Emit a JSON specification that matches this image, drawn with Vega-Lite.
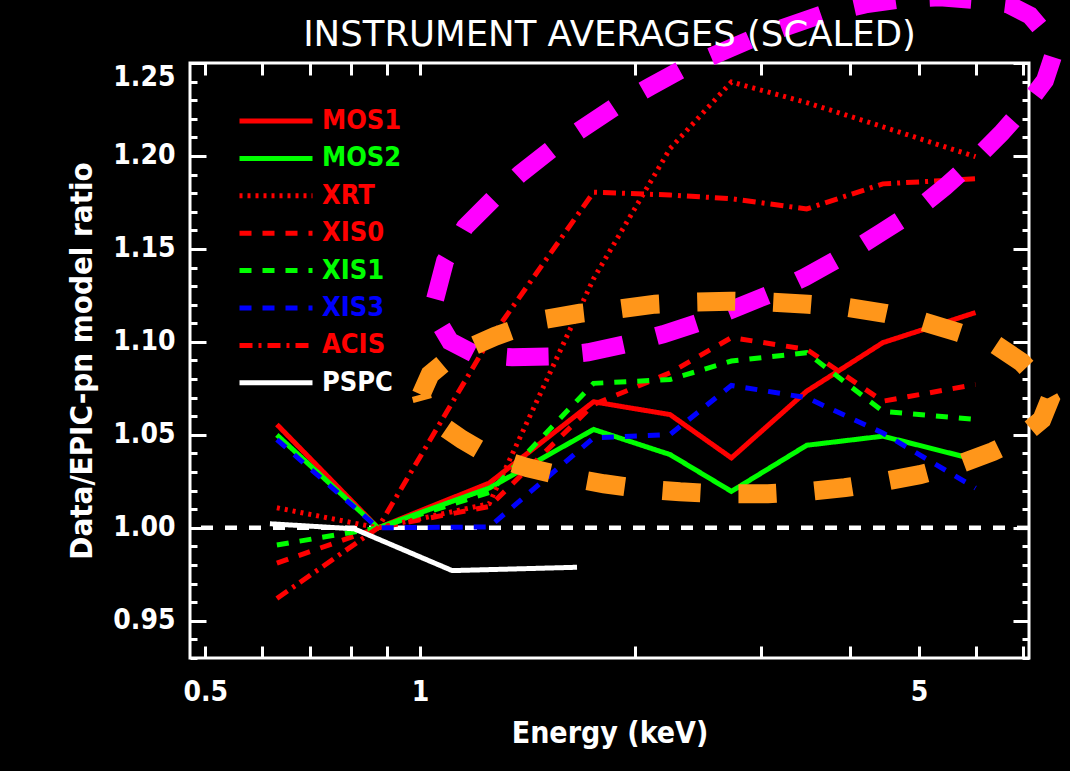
{
  "$schema": "https://vega.github.io/schema/vega-lite/v6.json",
  "width": 839,
  "height": 595,
  "autosize": {"type": "none"},
  "padding": {"left": 190, "top": 63, "right": 41, "bottom": 113},
  "background": "black",
  "config": {"view": {"stroke": "white", "strokeWidth": 3}},
  "title": {"text": "INSTRUMENT AVERAGES (SCALED)", "color": "white", "font": "DejaVu Sans", "fontSize": 35.5, "fontWeight": "normal", "anchor": "middle", "offset": 10, "dy": 102},
  "datasets": {
    "lines": [
      {"inst": "MOS1", "E": 0.63, "R": 1.0556}, {"inst": "MOS1", "E": 0.873, "R": 1.0}, {"inst": "MOS1", "E": 1.25, "R": 1.0241}, {"inst": "MOS1", "E": 1.75, "R": 1.0678}, {"inst": "MOS1", "E": 2.24, "R": 1.0609}, {"inst": "MOS1", "E": 2.73, "R": 1.0376}, {"inst": "MOS1", "E": 3.48, "R": 1.0735}, {"inst": "MOS1", "E": 4.45, "R": 1.0996}, {"inst": "MOS1", "E": 6.0, "R": 1.1158},
      {"inst": "MOS2", "E": 0.63, "R": 1.05}, {"inst": "MOS2", "E": 0.873, "R": 1.0}, {"inst": "MOS2", "E": 1.25, "R": 1.0214}, {"inst": "MOS2", "E": 1.75, "R": 1.0529}, {"inst": "MOS2", "E": 2.24, "R": 1.0394}, {"inst": "MOS2", "E": 2.73, "R": 1.0196}, {"inst": "MOS2", "E": 3.48, "R": 1.0444}, {"inst": "MOS2", "E": 4.45, "R": 1.0493}, {"inst": "MOS2", "E": 6.0, "R": 1.0367},
      {"inst": "XRT", "E": 0.63, "R": 1.0108}, {"inst": "XRT", "E": 0.873, "R": 1.0}, {"inst": "XRT", "E": 1.25, "R": 1.013}, {"inst": "XRT", "E": 1.75, "R": 1.134}, {"inst": "XRT", "E": 2.24, "R": 1.204}, {"inst": "XRT", "E": 2.73, "R": 1.2398}, {"inst": "XRT", "E": 3.48, "R": 1.2287}, {"inst": "XRT", "E": 4.45, "R": 1.2157}, {"inst": "XRT", "E": 6.0, "R": 1.1996},
      {"inst": "XIS0", "E": 0.63, "R": 0.981}, {"inst": "XIS0", "E": 0.873, "R": 1.0}, {"inst": "XIS0", "E": 1.25, "R": 1.0115}, {"inst": "XIS0", "E": 1.75, "R": 1.0663}, {"inst": "XIS0", "E": 2.24, "R": 1.0834}, {"inst": "XIS0", "E": 2.73, "R": 1.1023}, {"inst": "XIS0", "E": 3.48, "R": 1.096}, {"inst": "XIS0", "E": 4.45, "R": 1.0681}, {"inst": "XIS0", "E": 6.0, "R": 1.0771},
      {"inst": "XIS1", "E": 0.63, "R": 0.9908}, {"inst": "XIS1", "E": 0.873, "R": 1.0}, {"inst": "XIS1", "E": 1.25, "R": 1.019}, {"inst": "XIS1", "E": 1.75, "R": 1.0777}, {"inst": "XIS1", "E": 2.24, "R": 1.0798}, {"inst": "XIS1", "E": 2.73, "R": 1.0897}, {"inst": "XIS1", "E": 3.48, "R": 1.0942}, {"inst": "XIS1", "E": 4.45, "R": 1.0627}, {"inst": "XIS1", "E": 6.0, "R": 1.0583},
      {"inst": "XIS3", "E": 0.63, "R": 1.0475}, {"inst": "XIS3", "E": 0.873, "R": 1.0}, {"inst": "XIS3", "E": 1.25, "R": 1.0005}, {"inst": "XIS3", "E": 1.75, "R": 1.0484}, {"inst": "XIS3", "E": 2.24, "R": 1.0502}, {"inst": "XIS3", "E": 2.73, "R": 1.0766}, {"inst": "XIS3", "E": 3.48, "R": 1.07}, {"inst": "XIS3", "E": 4.45, "R": 1.051}, {"inst": "XIS3", "E": 6.0, "R": 1.0214},
      {"inst": "ACIS", "E": 0.63, "R": 0.962}, {"inst": "ACIS", "E": 0.873, "R": 1.0}, {"inst": "ACIS", "E": 1.25, "R": 1.101}, {"inst": "ACIS", "E": 1.75, "R": 1.1805}, {"inst": "ACIS", "E": 2.24, "R": 1.179}, {"inst": "ACIS", "E": 2.73, "R": 1.177}, {"inst": "ACIS", "E": 3.48, "R": 1.1715}, {"inst": "ACIS", "E": 4.45, "R": 1.185}, {"inst": "ACIS", "E": 6.0, "R": 1.1877},
      {"inst": "PSPC", "E": 0.616, "R": 1.0022}, {"inst": "PSPC", "E": 0.808, "R": 0.9995}, {"inst": "PSPC", "E": 1.109, "R": 0.977}, {"inst": "PSPC", "E": 1.659, "R": 0.9788}
    ],
    "magenta": [
      {"i": 1, "E": 1.0496, "R": 1.123}, {"i": 2, "E": 1.0839, "R": 1.1435}, {"i": 3, "E": 1.1562, "R": 1.1618}, {"i": 4, "E": 1.2654, "R": 1.1769}, {"i": 5, "E": 1.3808, "R": 1.1904}, {"i": 6, "E": 1.5306, "R": 1.2039}, {"i": 7, "E": 1.7026, "R": 1.2157}, {"i": 8, "E": 1.876, "R": 1.2265}, {"i": 9, "E": 2.0999, "R": 1.2373}, {"i": 10, "E": 2.335, "R": 1.247}, {"i": 11, "E": 2.6152, "R": 1.2551}, {"i": 12, "E": 2.9272, "R": 1.2632}, {"i": 13, "E": 3.2983, "R": 1.2702}, {"i": 14, "E": 3.6919, "R": 1.2767}, {"i": 15, "E": 4.2013, "R": 1.2815}, {"i": 16, "E": 4.732, "R": 1.2843}, {"i": 17, "E": 5.3496, "R": 1.2853}, {"i": 18, "E": 6.0284, "R": 1.2837}, {"i": 19, "E": 6.662, "R": 1.2816}, {"i": 20, "E": 7.151, "R": 1.2756}, {"i": 21, "E": 7.53, "R": 1.2654}, {"i": 22, "E": 7.702, "R": 1.2535}, {"i": 23, "E": 7.506, "R": 1.2406}, {"i": 24, "E": 7.062, "R": 1.2271}, {"i": 25, "E": 6.513, "R": 1.212}, {"i": 26, "E": 5.9498, "R": 1.1969}, {"i": 27, "E": 5.4369, "R": 1.1834}, {"i": 28, "E": 4.9352, "R": 1.1704}, {"i": 29, "E": 4.437, "R": 1.1591}, {"i": 30, "E": 4.002, "R": 1.1483}, {"i": 31, "E": 3.4611, "R": 1.1348}, {"i": 32, "E": 3.0918, "R": 1.1257}, {"i": 33, "E": 2.7443, "R": 1.1176}, {"i": 34, "E": 2.4665, "R": 1.1106}, {"i": 35, "E": 2.1893, "R": 1.1041}, {"i": 36, "E": 1.937, "R": 1.0987}, {"i": 37, "E": 1.7193, "R": 1.0944}, {"i": 38, "E": 1.5209, "R": 1.0922}, {"i": 39, "E": 1.3455, "R": 1.0917}, {"i": 40, "E": 1.1938, "R": 1.0933}, {"i": 41, "E": 1.1017, "R": 1.1003}, {"i": 42, "E": 1.0598, "R": 1.1111}, {"i": 43, "E": 1.0496, "R": 1.123}
    ],
    "orange": [
      {"i": 1, "E": 1.0032, "R": 1.0717}, {"i": 2, "E": 1.0328, "R": 1.0825}, {"i": 3, "E": 1.0945, "R": 1.0906}, {"i": 4, "E": 1.1749, "R": 1.0971}, {"i": 5, "E": 1.2735, "R": 1.103}, {"i": 6, "E": 1.3808, "R": 1.1079}, {"i": 7, "E": 1.4967, "R": 1.1122}, {"i": 8, "E": 1.6753, "R": 1.1154}, {"i": 9, "E": 1.888, "R": 1.1176}, {"i": 10, "E": 2.1339, "R": 1.1203}, {"i": 11, "E": 2.4044, "R": 1.1214}, {"i": 12, "E": 2.7187, "R": 1.1219}, {"i": 13, "E": 3.0814, "R": 1.1214}, {"i": 14, "E": 3.4937, "R": 1.1203}, {"i": 15, "E": 3.9503, "R": 1.1187}, {"i": 16, "E": 4.4796, "R": 1.1154}, {"i": 17, "E": 5.0466, "R": 1.1111}, {"i": 18, "E": 5.6691, "R": 1.1052}, {"i": 19, "E": 6.3884, "R": 1.0987}, {"i": 20, "E": 6.9663, "R": 1.089}, {"i": 21, "E": 7.3841, "R": 1.0787}, {"i": 22, "E": 7.6262, "R": 1.069}, {"i": 23, "E": 7.4309, "R": 1.0583}, {"i": 24, "E": 6.877, "R": 1.0475}, {"i": 25, "E": 6.3458, "R": 1.041}, {"i": 26, "E": 5.6691, "R": 1.034}, {"i": 27, "E": 5.0141, "R": 1.0286}, {"i": 28, "E": 4.4508, "R": 1.0248}, {"i": 29, "E": 3.9376, "R": 1.0216}, {"i": 30, "E": 3.4713, "R": 1.0194}, {"i": 31, "E": 3.0715, "R": 1.0183}, {"i": 32, "E": 2.6152, "R": 1.0183}, {"i": 33, "E": 2.3127, "R": 1.0194}, {"i": 34, "E": 2.0397, "R": 1.021}, {"i": 35, "E": 1.8102, "R": 1.0237}, {"i": 36, "E": 1.5962, "R": 1.0275}, {"i": 37, "E": 1.4122, "R": 1.0324}, {"i": 38, "E": 1.2531, "R": 1.0388}, {"i": 39, "E": 1.1449, "R": 1.0475}, {"i": 40, "E": 1.0666, "R": 1.0556}, {"i": 41, "E": 1.0163, "R": 1.0636}, {"i": 42, "E": 1.0032, "R": 1.0717}
    ]
  },
  "resolve": {"axis": {"x": "independent", "y": "independent"}},
  "layer": [
    {
      "data": {"values": [{"ref": 1}]},
      "mark": {"type": "rule", "color": "white", "strokeWidth": 4.5, "strokeDash": [12, 12]},
      "encoding": {
        "y": {"field": "ref", "type": "quantitative", "scale": {"domain": [0.93, 1.25], "nice": false, "zero": false},
          "axis": {"orient": "left", "values": [0.93, 0.94, 0.95, 0.96, 0.97, 0.98, 0.99, 1.0, 1.01, 1.02, 1.03, 1.04, 1.05, 1.06, 1.07, 1.08, 1.09, 1.1, 1.11, 1.12, 1.13, 1.14, 1.15, 1.16, 1.17, 1.18, 1.19, 1.2, 1.21, 1.22, 1.23, 1.24, 1.25], "labels": false, "tickSize": -7, "tickWidth": 3, "tickColor": "white", "domain": false, "grid": false, "title": null}}
      }
    },
    {
      "data": {"name": "lines"},
      "mark": {"type": "line", "strokeWidth": 5, "strokeCap": "butt"},
      "encoding": {
        "x": {"field": "E", "type": "quantitative", "scale": {"type": "log", "domain": [0.476, 7.13], "nice": false},
          "axis": {"orient": "bottom", "values": [0.5, 0.6, 0.7, 0.8, 0.9, 1, 2, 3, 4, 5, 6, 7], "labelExpr": "datum.value == 0.5 ? '0.5' : datum.value == 1 ? '1' : datum.value == 5 ? '5' : ''", "tickSize": -12, "tickWidth": 3, "tickColor": "white", "domain": false, "grid": false, "labelColor": "white", "labelFont": "DejaVu Sans Condensed, DejaVu Sans", "labelFontWeight": "bold", "labelFontSize": 28, "labelPadding": 32, "labelOverlap": false, "labelFlush": false, "title": "Energy (keV)", "titleColor": "white", "titleFont": "DejaVu Sans Condensed, DejaVu Sans", "titleFontWeight": "bold", "titleFontSize": 30, "titlePadding": 12}},
        "y": {"field": "R", "type": "quantitative", "scale": {"domain": [0.93, 1.25], "nice": false, "zero": false},
          "axis": {"orient": "left", "values": [0.95, 1.0, 1.05, 1.1, 1.15, 1.2, 1.25], "format": ".2f", "tickSize": -16, "tickWidth": 3, "tickColor": "white", "domain": false, "grid": false, "labelColor": "white", "labelFont": "DejaVu Sans Condensed, DejaVu Sans", "labelFontWeight": "bold", "labelFontSize": 28, "labelPadding": 31, "labelFlush": true, "labelOverlap": false, "title": "Data/EPIC-pn model ratio", "titleColor": "white", "titleFont": "DejaVu Sans Condensed, DejaVu Sans", "titleFontWeight": "bold", "titleFontSize": 31, "titlePadding": 14}},
        "color": {"field": "inst", "type": "nominal",
          "scale": {"domain": ["MOS1", "MOS2", "XRT", "XIS0", "XIS1", "XIS3", "ACIS", "PSPC"], "range": ["#ff0000", "#00ff00", "#ff0000", "#ff0000", "#00ff00", "#0000ff", "#ff0000", "#ffffff"]},
          "legend": {"title": null, "orient": "none", "legendX": 71, "legendY": 43, "padding": 0, "symbolType": "M-3,0H3", "symbolSize": 592, "symbolStrokeWidth": 5, "labelFont": "DejaVu Sans Condensed, DejaVu Sans", "labelFontWeight": "bold", "labelFontSize": 27, "labelOffset": 31, "rowPadding": 9.4, "encode": {"labels": {"update": {"fill": {"scale": "color", "field": "value"}}}}}},
        "strokeDash": {"field": "inst", "type": "nominal",
          "scale": {"domain": ["MOS1", "MOS2", "XRT", "XIS0", "XIS1", "XIS3", "ACIS", "PSPC"], "range": [[1, 0], [1, 0], [3, 5], [12, 11], [12, 11], [12, 11], [13, 6, 3, 6], [1, 0]]},
          "legend": {"title": null, "orient": "none", "legendX": 71, "legendY": 43, "padding": 0, "symbolType": "M-3,0H3", "symbolSize": 592, "symbolStrokeWidth": 5, "labelFont": "DejaVu Sans Condensed, DejaVu Sans", "labelFontWeight": "bold", "labelFontSize": 27, "labelOffset": 31, "rowPadding": 9.4, "encode": {"labels": {"update": {"fill": {"scale": "color", "field": "value"}}}}}}
      }
    },
    {
      "data": {"name": "magenta"},
      "mark": {"type": "line", "color": "#ff00ff", "strokeWidth": 18, "strokeDash": [42, 34], "strokeCap": "butt", "clip": false},
      "encoding": {
        "x": {"field": "E", "type": "quantitative", "scale": {"type": "log", "domain": [0.476, 7.13], "nice": false},
          "axis": {"orient": "top", "values": [0.5, 0.6, 0.7, 0.8, 0.9, 1, 2, 3, 4, 5, 6, 7], "labels": false, "tickSize": -12, "tickWidth": 3, "tickColor": "white", "domain": false, "grid": false, "title": null}},
        "y": {"field": "R", "type": "quantitative", "scale": {"domain": [0.93, 1.25], "nice": false, "zero": false},
          "axis": {"orient": "right", "values": [0.95, 1.0, 1.05, 1.1, 1.15, 1.2, 1.25], "labels": false, "tickSize": -16, "tickWidth": 3, "tickColor": "white", "domain": false, "grid": false, "title": null}},
        "order": {"field": "i", "type": "quantitative"}
      }
    },
    {
      "data": {"name": "orange"},
      "mark": {"type": "line", "color": "#ff961a", "strokeWidth": 19, "strokeDash": [38, 38], "strokeCap": "butt", "clip": false},
      "encoding": {
        "x": {"field": "E", "type": "quantitative", "scale": {"type": "log", "domain": [0.476, 7.13], "nice": false}, "axis": null},
        "y": {"field": "R", "type": "quantitative", "scale": {"domain": [0.93, 1.25], "nice": false, "zero": false},
          "axis": {"orient": "right", "values": [0.93, 0.94, 0.95, 0.96, 0.97, 0.98, 0.99, 1.0, 1.01, 1.02, 1.03, 1.04, 1.05, 1.06, 1.07, 1.08, 1.09, 1.1, 1.11, 1.12, 1.13, 1.14, 1.15, 1.16, 1.17, 1.18, 1.19, 1.2, 1.21, 1.22, 1.23, 1.24, 1.25], "labels": false, "tickSize": -7, "tickWidth": 3, "tickColor": "white", "domain": false, "grid": false, "title": null}},
        "order": {"field": "i", "type": "quantitative"}
      }
    }
  ]
}
